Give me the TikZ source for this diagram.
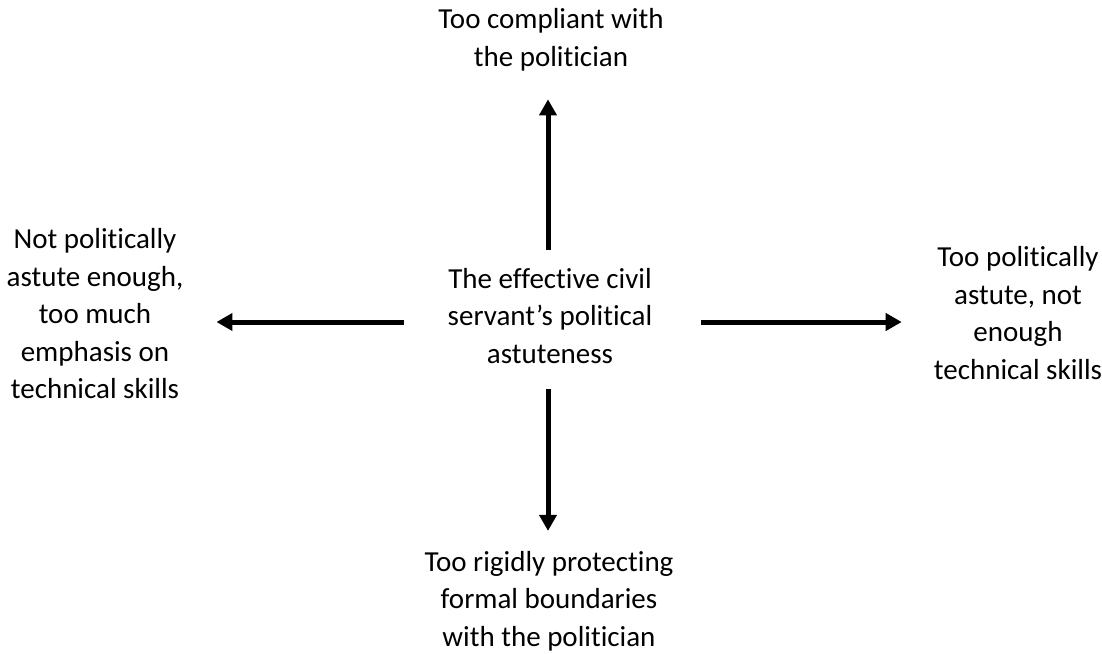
\documentclass[tikz,border=0pt]{standalone}
\usepackage{fontspec}
\setmainfont{Carlito}[Ligatures=NoCommon]
\usetikzlibrary{arrows.meta}

\begin{document}
\begin{tikzpicture}[x=1pt, y=-1pt,
  txt/.style={align=center, inner sep=0pt, font=\fontsize{29}{37.5}\selectfont},
  arr/.style={line width=5pt, -{Triangle[length=16pt, width=17pt]}}]
\useasboundingbox (0,0) rectangle (1102,653);

%draw labels
\node[txt] (mid) at (550,316) {The effective civil\\servant’s political\\astuteness};
\node[txt] (top) at (551,40) {Too compliant with\\the politician};
\node[txt] (bottom) at (549,601) {Too rigidly protecting\\formal boundaries\\with the politician};
\node[txt] (left) at (95,314) {Not politically\\astute enough,\\too much\\emphasis on\\technical skills};
\node[txt] (right) at (1018,313) {Too politically\\astute, not\\enough\\technical skills};

%draw arrows
\coordinate (hub) at (548,322);
\draw[arr, shorten <=18pt, shorten >=28pt] (mid.north -| hub) -- (top.south -| hub);
\draw[arr, shorten <=25pt, shorten >=20pt] (mid.south -| hub) -- (bottom.north -| hub);
\draw[arr, shorten <=44pt, shorten >=33pt] (mid.west |- hub) -- (left.east |- hub);
\draw[arr, shorten <=49pt, shorten >=32pt] (mid.east |- hub) -- (right.west |- hub);

\end{tikzpicture}
\end{document}
